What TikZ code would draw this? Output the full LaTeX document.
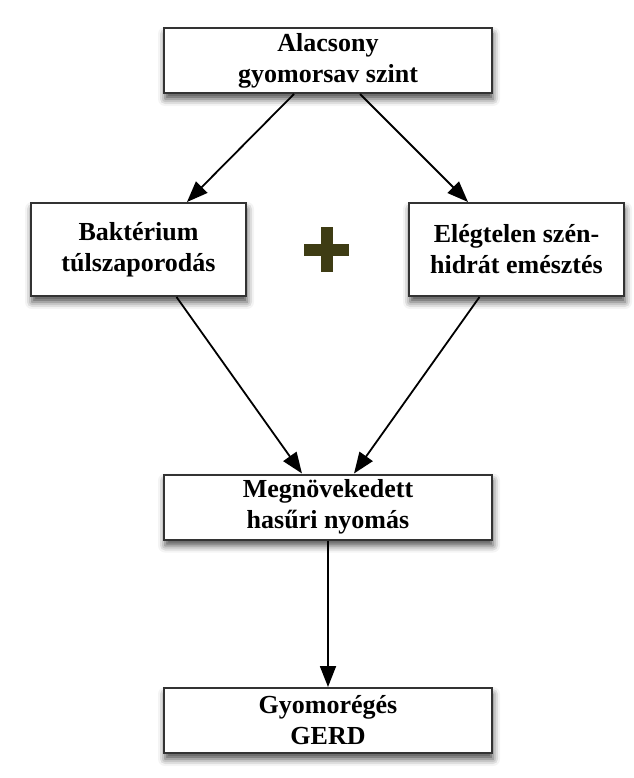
\documentclass[tikz,border=0pt]{standalone}
\usepackage{fontspec}
\setmainfont{Liberation Serif}
\usepackage{xcolor}
\usepackage{tikz}
\usetikzlibrary{positioning,arrows.meta,shadows.blur}
\definecolor{plusolive}{RGB}{62,60,20}

\begin{document}
\begin{tikzpicture}[x=1pt, y=1pt, on grid, line width=2pt,
	main/.style = {draw=black!80, fill=white, align=center, inner sep=0pt, font=\fontsize{26}{31}\selectfont\bfseries, minimum width=328pt, minimum height=65pt, blur shadow={shadow xshift=1pt, shadow yshift=-6pt, shadow blur radius=7pt, shadow opacity=70}},
	side/.style = {main, minimum width=215pt, minimum height=93pt},
	arr/.style = {-{Triangle[length=21pt,width=16pt]}, line width=1.8pt}]
	\useasboundingbox (0,0) rectangle (633,-778);
	\node[main] (1) at (328,-60.5) {Alacsony\\gyomorsav szint};
	\node[side] (2) [below left=189pt and 189.5pt of 1] {Baktérium\\túlszaporodás};
	\node[side] (3) [below right=189pt and 188.5pt of 1] {Elégtelen szén-\\hidrát emésztés};
	\node[minimum size=43pt, inner sep=0pt] (6) [right=188pt of 2] {};
	\node[main] (4) [below=446.5pt of 1] {Megnövekedett\\hasűri nyomás};
	\node[main] (5) [below=213.5pt of 4] {Gyomorégés\\GERD};
	\draw[plusolive, line width=12pt] (6.north) -- (6.south);
	\draw[plusolive, line width=12pt] (6.west) -- (6.east);
	\draw[arr] ([xshift=-34pt]1.south) -- ([xshift=48.5pt]2.north);
	\draw[arr] ([xshift=32pt]1.south) -- ([xshift=-48.5pt]3.north);
	\draw[arr] ([xshift=38pt]2.south) -- ([xshift=-26pt]4.north);
	\draw[arr] ([xshift=-37pt]3.south) -- ([xshift=26pt]4.north);
	\draw[arr] (4) -- (5);
\end{tikzpicture}
\end{document}
